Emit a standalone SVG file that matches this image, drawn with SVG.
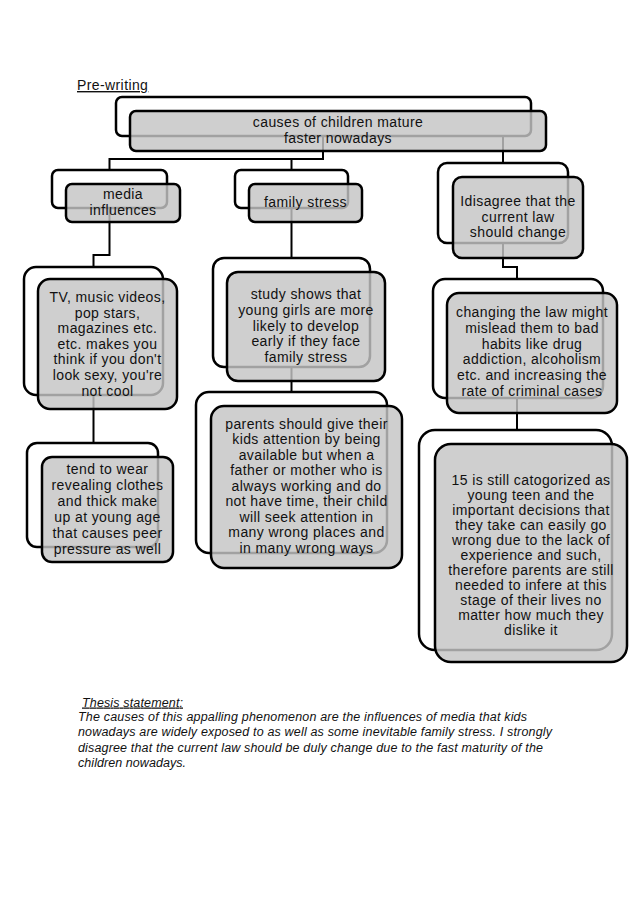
<svg xmlns="http://www.w3.org/2000/svg" width="638" height="904" viewBox="0 0 638 904">
<style>
.bk{fill:#fff;stroke:#000;stroke-width:2.5}
.fg{fill:#c4c4c4;fill-opacity:0.82;stroke:#000;stroke-width:2.5}
.t{font-family:"Liberation Sans",Arial,sans-serif;font-size:14px;letter-spacing:0.4px;fill:#111;text-anchor:middle}
.c{fill:none;stroke:#000;stroke-width:2}
.th{font-family:"Liberation Sans",Arial,sans-serif;font-size:12.5px;font-style:italic;fill:#111}
</style>
<rect width="638" height="904" fill="#fff"/>
<text x="77" y="90" font-family="Liberation Sans, Arial, sans-serif" font-size="14" letter-spacing="0.4" fill="#111" text-decoration="underline">Pre-writing</text>
<g id="connectors">
<path class="c" d="M323 136 V159 H109.5 V170"/>
<path class="c" d="M291.5 159 V170"/>
<path class="c" d="M503 136 V163"/>
<path class="c" d="M109.5 208 V255 H93.5 V267"/>
<path class="c" d="M93.5 395 V443"/>
<path class="c" d="M291.5 208 V258"/>
<path class="c" d="M291.5 367 V392"/>
<path class="c" d="M503 243 V267 H517 V279"/>
<path class="c" d="M517 398 V430"/>
</g>
<g id="root">
<rect class="bk" x="116" y="97" width="415" height="39" rx="6"/>
<rect class="fg" x="130" y="111" width="416" height="40" rx="6"/>
<text class="t"><tspan x="338" y="127">causes of children mature</tspan><tspan x="338" y="143">faster nowadays</tspan></text>
</g>
<g id="media">
<rect class="bk" x="52" y="170" width="115" height="38" rx="6"/>
<rect class="fg" x="66" y="184" width="114" height="38" rx="6"/>
<text class="t"><tspan x="123" y="199">media</tspan><tspan x="123" y="215">influences</tspan></text>
</g>
<g id="family">
<rect class="bk" x="235" y="170" width="113" height="38" rx="6"/>
<rect class="fg" x="249" y="184" width="113" height="38" rx="6"/>
<text class="t"><tspan x="305.5" y="207">family stress</tspan></text>
</g>
<g id="disagree">
<rect class="bk" x="438" y="163" width="130" height="80" rx="9"/>
<rect class="fg" x="453" y="177" width="130" height="81" rx="9"/>
<text class="t"><tspan x="518" y="206">Idisagree that the</tspan><tspan x="518" y="221.5">current law</tspan><tspan x="518" y="237">should change</tspan></text>
</g>
<g id="tv">
<rect class="bk" x="24" y="267" width="139" height="128" rx="12"/>
<rect class="fg" x="38" y="279" width="139" height="130" rx="12"/>
<text class="t"><tspan x="107.5" y="302">TV, music videos,</tspan><tspan x="107.5" y="317.6">pop stars,</tspan><tspan x="107.5" y="333.2">magazines etc.</tspan><tspan x="107.5" y="348.8">etc. makes you</tspan><tspan x="107.5" y="364.4">think if you don't</tspan><tspan x="107.5" y="380">look sexy, you're</tspan><tspan x="107.5" y="395.6">not cool</tspan></text>
</g>
<g id="tend">
<rect class="bk" x="27" y="443" width="131" height="104" rx="10"/>
<rect class="fg" x="42" y="457" width="131" height="105" rx="10"/>
<text class="t"><tspan x="107.5" y="474">tend to wear</tspan><tspan x="107.5" y="490">revealing clothes</tspan><tspan x="107.5" y="506">and thick make</tspan><tspan x="107.5" y="522">up at young age</tspan><tspan x="107.5" y="538">that causes peer</tspan><tspan x="107.5" y="554">pressure as well</tspan></text>
</g>
<g id="study">
<rect class="bk" x="213" y="258" width="157" height="109" rx="11"/>
<rect class="fg" x="227" y="272" width="158" height="109" rx="11"/>
<text class="t"><tspan x="306" y="299">study shows that</tspan><tspan x="306" y="314.8">young girls are more</tspan><tspan x="306" y="330.5">likely to develop</tspan><tspan x="306" y="346.3">early if they face</tspan><tspan x="306" y="362">family stress</tspan></text>
</g>
<g id="parents">
<rect class="bk" x="196" y="392" width="191" height="161" rx="13"/>
<rect class="fg" x="211" y="406" width="191" height="162" rx="13"/>
<text class="t"><tspan x="306.5" y="428.5">parents should give their</tspan><tspan x="306.5" y="444">kids attention by being</tspan><tspan x="306.5" y="459.5">available but when a</tspan><tspan x="306.5" y="475">father or mother who is</tspan><tspan x="306.5" y="490.5">always working and do</tspan><tspan x="306.5" y="506">not have time, their child</tspan><tspan x="306.5" y="521.5">will seek attention in</tspan><tspan x="306.5" y="537">many wrong places and</tspan><tspan x="306.5" y="552.5">in many wrong ways</tspan></text>
</g>
<g id="changing">
<rect class="bk" x="433" y="279" width="170" height="119" rx="12"/>
<rect class="fg" x="447" y="293" width="170" height="120" rx="12"/>
<text class="t"><tspan x="532" y="317">changing the law might</tspan><tspan x="532" y="332.8">mislead them to bad</tspan><tspan x="532" y="348.6">habits like drug</tspan><tspan x="532" y="364.4">addiction, alcoholism</tspan><tspan x="532" y="380.2">etc. and increasing the</tspan><tspan x="532" y="396">rate of criminal cases</tspan></text>
</g>
<g id="fifteen">
<rect class="bk" x="419" y="430" width="193" height="220" rx="16"/>
<rect class="fg" x="435" y="444" width="192" height="218" rx="16"/>
<text class="t"><tspan x="531" y="485">15 is still catogorized as</tspan><tspan x="531" y="500">young teen and the</tspan><tspan x="531" y="515">important decisions that</tspan><tspan x="531" y="530">they take can easily go</tspan><tspan x="531" y="545">wrong due to the lack of</tspan><tspan x="531" y="560">experience and such,</tspan><tspan x="531" y="575">therefore parents are still</tspan><tspan x="531" y="590">needed to infere at this</tspan><tspan x="531" y="605">stage of their lives no</tspan><tspan x="531" y="620">matter how much they</tspan><tspan x="531" y="635">dislike it</tspan></text>
</g>
<g id="thesis">
<text class="th" x="82" y="706.5" textLength="101" lengthAdjust="spacing" text-decoration="underline">Thesis statement:</text>
<text class="th" x="78" y="721" textLength="449" lengthAdjust="spacing">The causes of this appalling phenomenon are the influences of media that kids</text>
<text class="th" x="78" y="736" textLength="474" lengthAdjust="spacing">nowadays  are widely exposed to as well as some inevitable family stress. I strongly</text>
<text class="th" x="78" y="751.5" textLength="465" lengthAdjust="spacing">disagree that the current law should be duly change due to the fast maturity of the</text>
<text class="th" x="78" y="766.5" textLength="108" lengthAdjust="spacing">children nowadays.</text>
</g>
</svg>
